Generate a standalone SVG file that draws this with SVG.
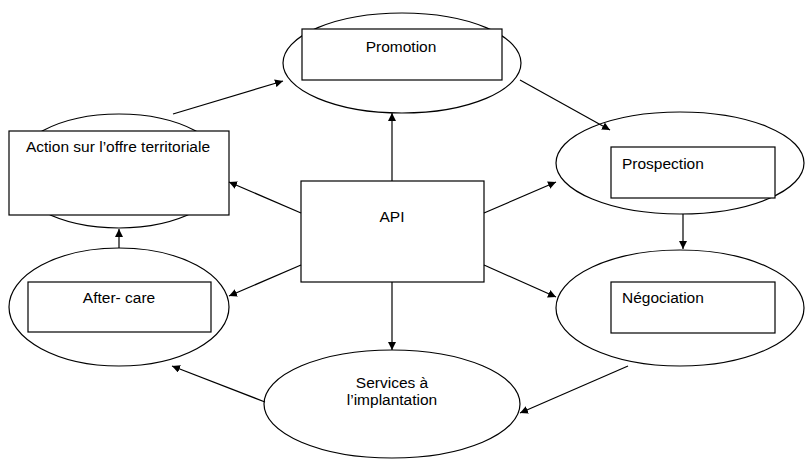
<svg xmlns="http://www.w3.org/2000/svg" width="805" height="462" viewBox="0 0 805 462">
  <style>
    .shape { fill: #ffffff; stroke: #000000; stroke-width: 1.2; }
    .lbl { font-family: "Liberation Sans", Arial, sans-serif; font-size: 15.5px; fill: #000000; }
    .mid { text-anchor: middle; }
    .conn line { stroke: #000000; stroke-width: 1.2; marker-end: url(#arrow); }
  </style>
  <defs>
    <marker id="arrow" viewBox="0 0 10 10" refX="10" refY="5" markerWidth="8" markerHeight="8" markerUnits="userSpaceOnUse" orient="auto">
      <path d="M0,0 L10,5 L0,10 Z" fill="#000000"/>
    </marker>
  </defs>
  <rect width="805" height="462" fill="#ffffff"/>

  <g id="promotion">
    <ellipse class="shape" cx="402" cy="63" rx="119" ry="50"/>
    <rect class="shape" x="302" y="29" width="200" height="51"/>
    <text class="lbl mid" x="401" y="52">Promotion</text>
  </g>

  <g id="action">
    <ellipse class="shape" cx="119" cy="171" rx="108" ry="57"/>
    <rect class="shape" x="9" y="131" width="220" height="84"/>
    <text class="lbl mid" x="118" y="152">Action sur l’offre territoriale</text>
  </g>

  <g id="prospection">
    <ellipse class="shape" cx="680" cy="163" rx="124" ry="51"/>
    <rect class="shape" x="611" y="147" width="164" height="51"/>
    <text class="lbl" x="622" y="169">Prospection</text>
  </g>

  <g id="negociation">
    <ellipse class="shape" cx="680" cy="308" rx="124" ry="58"/>
    <rect class="shape" x="611" y="282" width="164" height="51"/>
    <text class="lbl" x="622" y="303">Négociation</text>
  </g>

  <g id="aftercare">
    <ellipse class="shape" cx="119" cy="307" rx="110" ry="59"/>
    <rect class="shape" x="28" y="282" width="183" height="50"/>
    <text class="lbl mid" x="119" y="303">After- care</text>
  </g>

  <g id="api">
    <rect class="shape" x="301" y="181" width="183" height="101"/>
    <text class="lbl mid" x="392" y="222">API</text>
  </g>

  <g id="services">
    <ellipse class="shape" cx="392" cy="404" rx="128" ry="54"/>
    <text class="lbl mid" x="392" y="388">Services à</text>
    <text class="lbl mid" x="392" y="405">l’implantation</text>
  </g>

  <g id="connectors" class="conn">
    <line x1="173" y1="114" x2="283" y2="81"/>
    <line x1="520" y1="80" x2="610" y2="130"/>
    <line x1="392" y1="181" x2="392" y2="113"/>
    <line x1="484" y1="213" x2="556" y2="182"/>
    <line x1="683" y1="214" x2="683" y2="249"/>
    <line x1="484" y1="265" x2="556" y2="297"/>
    <line x1="628" y1="366" x2="520" y2="413"/>
    <line x1="392" y1="282" x2="392" y2="350"/>
    <line x1="265" y1="402" x2="172" y2="366"/>
    <line x1="301" y1="265" x2="229" y2="296"/>
    <line x1="119" y1="248" x2="119" y2="229"/>
    <line x1="301" y1="213" x2="229" y2="182"/>
  </g>
</svg>
